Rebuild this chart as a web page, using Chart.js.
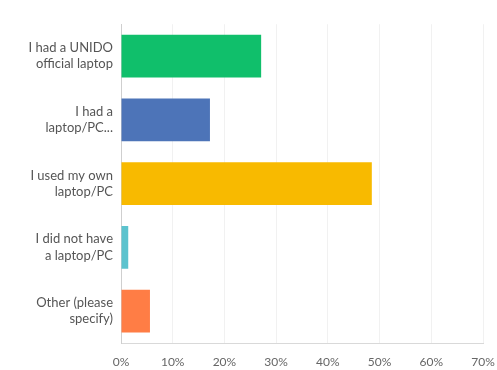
<!DOCTYPE html>
<html>
<head>
<meta charset="utf-8">
<script src="https://cdn.jsdelivr.net/npm/chart.js@4"></script>
<style>
html,body{margin:0;padding:0;background:#fff;}
#wrap{width:497px;height:370px;position:relative;}
</style>
</head>
<body>
<div id="wrap"><canvas id="c" width="497" height="370"></canvas></div>
<script>
const categories = [
  ["I had a UNIDO", "official laptop"],
  ["I had a", "laptop/PC..."],
  ["I used my own", "laptop/PC"],
  ["I did not have", "a laptop/PC"],
  ["Other (please", "specify)"]
];
const values = [27.1, 17.2, 48.5, 1.4, 5.6];
const barColors = ["#10BF6B", "#4D74B8", "#F8BA00", "#5CC3CE", "#FF7D45"];
const tickValues = [0, 10, 20, 30, 40, 50, 60, 70];

new Chart(document.getElementById('c'), {
  type: 'bar',
  data: {
    labels: categories,
    datasets: [{
      data: values,
      backgroundColor: barColors,
      borderWidth: 0,
      barPercentage: 0.67,
      categoryPercentage: 1.0
    }]
  },
  options: {
    indexAxis: 'y',
    responsive: false,
    animation: false,
    layout: { padding: { top: 23, right: 14, left: 0, bottom: 0 } },
    plugins: { legend: { display: false }, tooltip: { enabled: false } },
    scales: {
      x: {
        min: 0, max: 70,
        afterBuildTicks: (s) => { s.ticks = tickValues.map(v => ({ value: v })); },
        afterFit: (s) => { s.height = 27; s.paddingLeft = 0; s.paddingRight = 0; },
        grid: { color: '#f1f1f1', drawTicks: false, lineWidth: 1 },
        border: { color: '#d9d9d9', display: true },
        ticks: {
          callback: (v) => v + '%',
          color: '#666',
          font: { family: 'Lato', size: 12 },
          padding: 12
        }
      },
      y: {
        afterFit: (s) => { s.width = 121; },
        grid: { display: false, drawTicks: false },
        border: { color: '#cfcfcf', display: true },
        ticks: {
          color: '#555',
          font: { family: 'Lato', size: 13, lineHeight: 1.25 },
          padding: 8
        }
      }
    }
  }
});
</script>
</body>
</html>
